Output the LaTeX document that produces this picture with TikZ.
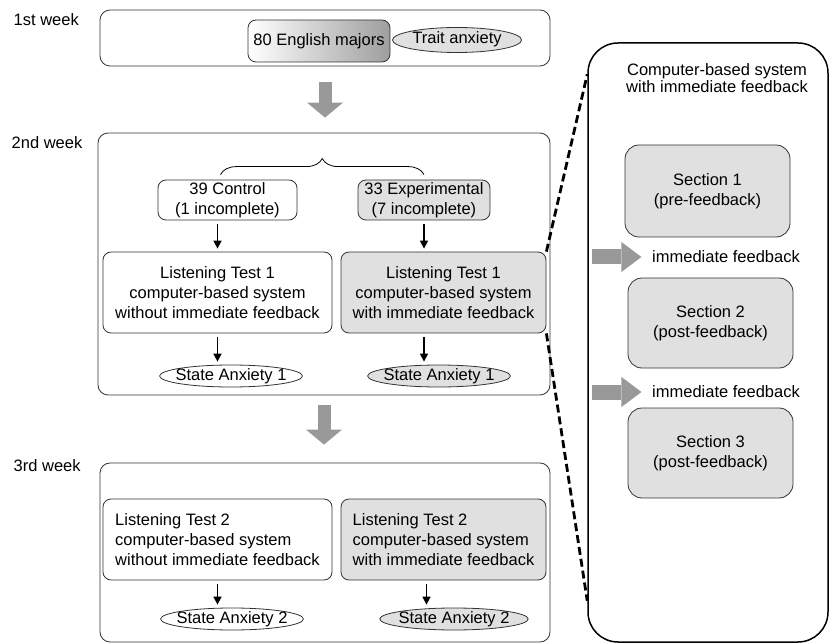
\documentclass[tikz,border=0pt]{standalone}
\usepackage{fontspec}
\setmainfont{Liberation Sans}
\usetikzlibrary{arrows.meta,shapes.geometric,decorations.pathreplacing,calc}

\begin{document}
\begin{tikzpicture}[x=1pt, y=-1pt, line width=0.8pt,
	font=\fontsize{16.5}{20}\selectfont,
	frame/.style={draw=black!80, rounded corners=10pt, inner sep=0pt},
	box/.style={draw=black!80, rounded corners=8pt, align=center, inner sep=0pt},
	grey/.style={fill=black!12},
	anx/.style={ellipse, draw=black!80, inner xsep=-5pt, inner ysep=0pt,
		text height=11pt, text depth=3pt, minimum height=22pt},
	arr/.style={-{Triangle[length=8pt, width=8pt]}, line width=1.6pt,
		shorten <=4pt, shorten >=3pt},
	bigarrow/.style={black!40, line width=13pt,
		-{Triangle[length=15pt, width=36pt, line width=0pt]}},
	sidearrow/.style={black!40, line width=15pt,
		-{Triangle[length=20pt, width=30pt, line width=0pt]}},
	zoomline/.style={line width=2.8pt, dash pattern=on 8pt off 4pt}]
	\useasboundingbox (0,0) rectangle (830,644);
	% 1st week
	\node[anchor=west] (weekone) at (10,20) {1st week};
	\node[frame, minimum width=450pt, minimum height=56pt] (wkone) at (325,38) {};
	\node[box, minimum width=142pt, minimum height=42pt,
	left color=white, right color=black!38] (majors) at (319,41) {80 English majors};
	\node[anx, grey, inner xsep=1pt, minimum height=25pt] (trait) at (457,40) {Trait anxiety};
	% 2nd week
	\node[anchor=west] (weektwo) at (8,143) {2nd week};
	\node[frame, minimum width=452pt, minimum height=262pt] (wktwo) at (324,264) {};
	\node[box, minimum width=139pt, minimum height=40pt] (ctrl) at (227.5,200)
	{39 Control\\(1 incomplete)};
	\node[box, grey, minimum width=132pt, minimum height=40pt] (expt) at (424,200)
	{33 Experimental\\(7 incomplete)};
	\draw[decorate, decoration={brace, amplitude=16pt}]
	([shift={(-7pt,5pt)}]ctrl.north) -- ([yshift=5pt]expt.north);
	\node[box, minimum width=229pt, minimum height=81pt] (testa) at (217.5,292.5)
	{Listening Test 1\\computer-based system\\without immediate feedback};
	\node[box, grey, minimum width=205pt, minimum height=81pt] (testb) at (443.5,292.5)
	{Listening Test 1\\computer-based system\\with immediate feedback};
	\node[anx] (stateaa) at (231,376) {State Anxiety 1};
	\node[anx, grey] (stateab) at (439,376) {State Anxiety 1};
	\draw[arr] (testa |- ctrl.south) -- (testa.north);
	\draw[arr] (testa.south) -- (testa |- stateaa.north);
	\draw[arr] (expt.south) -- (expt |- testb.north);
	\draw[arr] (expt |- testb.south) -- (expt |- stateab.north);
	% 3rd week
	\node[anchor=west] (weekthree) at (10,466) {3rd week};
	\node[frame, minimum width=450pt, minimum height=179pt] (wkthree) at (325,552.5) {};
	\node[box, align=left, minimum width=229pt, minimum height=81pt] (testc) at (217.5,539.5)
	{Listening Test 2\\computer-based system\\without immediate feedback};
	\node[box, grey, align=left, minimum width=205pt, minimum height=81pt] (testd) at (443.5,539.5)
	{Listening Test 2\\computer-based system\\with immediate feedback};
	\node[anx] (stateba) at (232,619) {State Anxiety 2};
	\node[anx, grey, inner xsep=-3pt] (statebb) at (454,619) {State Anxiety 2};
	\draw[arr] (testc.south) -- (testc |- stateba.north);
	\draw[arr] ([xshift=-17pt]testd.south) -- ([xshift=-17pt]testd.south |- statebb.north);
	% week to week
	\draw[bigarrow, shorten <=16pt, shorten >=15pt] (wkone.south) -- (wkone.south |- wktwo.north);
	\draw[bigarrow, shorten <=10pt, shorten >=18pt] (wktwo.south) -- (wktwo.south |- wkthree.north);
	% zoomed system
	\node[draw=black, line width=1.5pt, rounded corners=30pt, minimum width=240pt,
	minimum height=599pt, inner sep=0pt] (panel) at (708,342.5) {};
	\node[align=center, font=\fontsize{16.5}{17}\selectfont] (title) at (717,78)
	{Computer-based system\\with immediate feedback};
	\node[box, grey, rounded corners=14pt, minimum width=165pt, minimum height=92pt]
	(secone) at (707.5,191) {Section 1\\(pre-feedback)};
	\node[box, grey, rounded corners=14pt, minimum width=165pt, minimum height=90pt]
	(sectwo) at (710.5,323) {Section 2\\(post-feedback)};
	\node[box, grey, rounded corners=14pt, minimum width=165pt, minimum height=90pt]
	(secthree) at (710.5,453) {Section 3\\(post-feedback)};
	\node (fbone) at (726,257) {immediate feedback};
	\node (fbtwo) at (726,392) {immediate feedback};
	\draw[sidearrow] ($(panel.west |- fbone)+(5,0)$) -- ($(fbone.west)+(-7,0)$);
	\draw[sidearrow] ($(panel.west |- fbtwo)+(5,0)$) -- ($(fbtwo.west)+(-7,0)$);
	\coordinate (zoomtop) at ($(panel.north west)+(0,32)$);
	\coordinate (zoombot) at ($(panel.south west)+(0,-42)$);
	\draw[zoomline] (testb.north east) -- (zoomtop);
	\draw[zoomline] (testb.south east) -- (zoombot);
\end{tikzpicture}
\end{document}
